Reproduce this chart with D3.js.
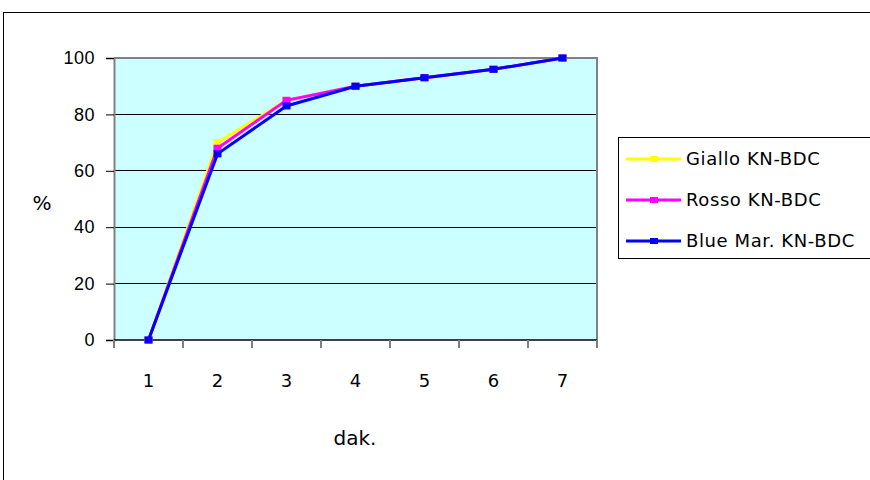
<!DOCTYPE html>
<html><head><meta charset="utf-8">
<script src="https://cdn.jsdelivr.net/npm/d3@7"></script>
<style>
body{margin:0;background:#fff;}
svg{display:block;font-family:"DejaVu Sans","Noto Sans",sans-serif;}
</style></head>
<body>
<svg id="c" width="870" height="480"></svg>
<script>
const categories = ["1","2","3","4","5","6","7"];
const giallo = [0, 70, 85, 90, 93, 96, 100];
const rosso  = [0, 68, 85, 90, 93, 96, 100];
const blue   = [0, 66, 83, 90, 93, 96, 100];
const seriesNames = ["Giallo KN-BDC","Rosso KN-BDC","Blue Mar. KN-BDC"];
const seriesColors = ["#ffff00","#ff00ff","#0000ff"];
const yTicks = [0,20,40,60,80,100];

const svg = d3.select("#c");
svg.append("rect").attr("x",3.5).attr("y",12.5).attr("width",900).attr("height",500)
  .attr("fill","#fff").attr("stroke","#000").attr("stroke-width",1);

const L=114, R=597, T=58, B=340;
const x = d3.scaleBand().domain(categories).range([L,R]);
const y = d3.scaleLinear().domain([0,100]).range([B,T]);

svg.append("rect").attr("x",L).attr("y",T).attr("width",R-L).attr("height",B-T).attr("fill","#ccffff");
svg.append("g").selectAll("line").data(yTicks.filter(d=>d>0&&d<100)).join("line")
  .attr("x1",L).attr("x2",R).attr("y1",d=>y(d)).attr("y2",d=>y(d))
  .attr("stroke","#000").attr("stroke-width",1).attr("shape-rendering","crispEdges");
svg.append("path").attr("d",`M${L},${T}H${R}V${B}`).attr("fill","none")
  .attr("stroke","#808080").attr("stroke-width",2);

const yAxis = d3.axisLeft(y).tickValues(yTicks).tickSize(8).tickPadding(11);
const gy = svg.append("g").attr("transform",`translate(${L},0)`).call(yAxis);
gy.select(".domain").attr("stroke","#808080").attr("stroke-width",2);
gy.selectAll(".tick line").attr("stroke","#000");
gy.selectAll("text").attr("font-size",18).attr("fill","#000").attr("letter-spacing",0.5);

const gx = svg.append("g").attr("transform",`translate(0,${B})`);
gx.append("line").attr("x1",L).attr("x2",R).attr("stroke","#000").attr("stroke-width",1.5);
const bounds = categories.map(c=>x(c)).concat([x(categories[categories.length-1])+x.bandwidth()]);
gx.selectAll("line.tk").data(bounds).join("line").attr("class","tk")
  .attr("x1",d=>d).attr("x2",d=>d).attr("y1",0).attr("y2",8).attr("stroke","#808080").attr("stroke-width",2);
gx.selectAll("text").data(categories).join("text")
  .attr("x",d=>x(d)+x.bandwidth()/2).attr("y",47).attr("text-anchor","middle")
  .attr("font-size",18).text(d=>d);

svg.append("text").attr("x",355).attr("y",445).attr("text-anchor","middle").attr("font-size",20).text("dak.");
svg.append("text").attr("x",42).attr("y",210).attr("text-anchor","middle").attr("font-size",20).text("%");

const allSeries = [giallo, rosso, blue];
const line = d3.line().x((d,i)=>x(categories[i])+x.bandwidth()/2).y(d=>y(d));
allSeries.forEach((s,k)=>{
  const g = svg.append("g");
  g.append("path").datum(s).attr("d",line).attr("fill","none").attr("stroke",seriesColors[k]).attr("stroke-width",3);
  g.selectAll("rect").data(s).join("rect")
    .attr("x",(d,i)=>x(categories[i])+x.bandwidth()/2-4).attr("y",d=>y(d)-3.5)
    .attr("width",8).attr("height",7).attr("fill",seriesColors[k]);
});

const lg = svg.append("g");
lg.append("rect").attr("x",618.5).attr("y",137.5).attr("width",300).attr("height",121)
  .attr("fill","#fff").attr("stroke","#000").attr("stroke-width",1);
seriesNames.forEach((n,k)=>{
  const yy = 159 + k*41;
  lg.append("line").attr("x1",626).attr("x2",681).attr("y1",yy).attr("y2",yy).attr("stroke",seriesColors[k]).attr("stroke-width",3);
  lg.append("rect").attr("x",650).attr("y",yy-3).attr("width",8).attr("height",6).attr("fill",seriesColors[k]);
  lg.append("text").attr("x",686).attr("y",yy+6).attr("font-size",18).attr("letter-spacing",0.6).text(n);
});
</script>
</body></html>
